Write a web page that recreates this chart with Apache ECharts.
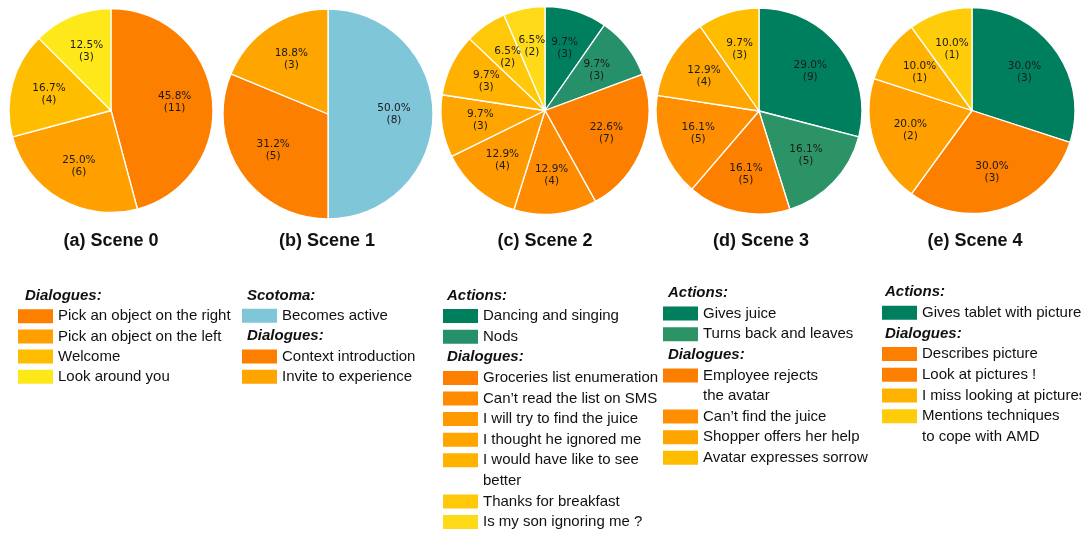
<!DOCTYPE html>
<html>
<head>
<meta charset="utf-8">
<script src="https://cdn.jsdelivr.net/npm/echarts@6/dist/echarts.min.js"></script>
<style>
  html, body { margin: 0; padding: 0; background: #fff; }
  #chart { width: 1081px; height: 535px; }
</style>
</head>
<body>
<div id="chart"></div>
<script>
// scene data, clockwise from 12 o'clock
const titles = ['(a) Scene 0', '(b) Scene 1', '(c) Scene 2', '(d) Scene 3', '(e) Scene 4']

const names0 = ['Pick an object on the right', 'Pick an object on the left', 'Welcome', 'Look around you']
const values0 = [11, 6, 4, 3]

const names1 = ['Becomes active', 'Context introduction', 'Invite to experience']
const values1 = [8, 5, 3]

const names2 = ['Dancing and singing', 'Nods', 'Groceries list enumeration', 'Can’t read the list on SMS',
  'I will try to find the juice', 'I thought he ignored me', 'I would have like to see better',
  'Thanks for breakfast', 'Is my son ignoring me ?']
const values2 = [3, 3, 7, 4, 4, 3, 3, 2, 2]

const names3 = ['Gives juice', 'Turns back and leaves', 'Employee rejects the avatar', 'Can’t find the juice',
  'Shopper offers her help', 'Avatar expresses sorrow']
const values3 = [9, 5, 5, 5, 4, 3]

const names4 = ['Gives tablet with picture', 'Describes picture', 'Look at pictures !',
  'I miss looking at pictures', 'Mentions techniques to cope with AMD']
const values4 = [3, 3, 2, 1, 1]

// legend headers: [label, number of entries under it]
const groups0 = [['Dialogues:', 4]]
const groups1 = [['Scotoma:', 1], ['Dialogues:', 2]]
const groups2 = [['Actions:', 2], ['Dialogues:', 7]]
const groups3 = [['Actions:', 2], ['Dialogues:', 4]]
const groups4 = [['Actions:', 1], ['Dialogues:', 4]]

// legend entries shown on two lines
const wraps = {
  'I would have like to see better': ['I would have like to see', 'better'],
  'Employee rejects the avatar': ['Employee rejects', 'the avatar'],
  'Mentions techniques to cope with AMD': ['Mentions techniques', 'to cope with AMD']
}

// colours
const colors0 = ['#fc7f00', '#ffa000', '#ffbd00', '#ffe81a']
const colors1 = ['#80c6d9', '#fc7f00', '#ffa500']
const colors2 = ['#007f5f', '#26906a', '#fc7f00', '#ff8c00', '#ff9900', '#ffa500', '#ffb200', '#ffc808', '#ffda18']
const colors3 = ['#007f5f', '#2c9366', '#fc7f00', '#ff8f00', '#ffa500', '#ffbd00']
const colors4 = ['#007f5f', '#fc7f00', '#ffa000', '#ffb300', '#ffcc0a']
const legendColors4 = ['#007f5f', '#fc7f00', '#fc7f00', '#ffb300', '#ffcc0a']

const scenes = [
  { names: names0, values: values0, colors: colors0, lcolors: colors0, groups: groups0 },
  { names: names1, values: values1, colors: colors1, lcolors: colors1, groups: groups1 },
  { names: names2, values: values2, colors: colors2, lcolors: colors2, groups: groups2 },
  { names: names3, values: values3, colors: colors3, lcolors: colors3, groups: groups3 },
  { names: names4, values: values4, colors: colors4, lcolors: legendColors4, groups: groups4 }
]

// layout
const pies = [
  { cx: 111, cy: 110.5, r: 102 },
  { cx: 328, cy: 114, r: 105 },
  { cx: 545, cy: 110.5, r: 104 },
  { cx: 759, cy: 111, r: 103 },
  { cx: 972, cy: 110.5, r: 103 }
]
const titleX = [111, 327, 545, 761, 975]
const titleY = 241
// header x, swatch x, first row y, row step
const blocks = [
  { hx: 25, sx: 18, y0: 296, step: 20.2 },
  { hx: 247, sx: 242, y0: 295.5, step: 20.3 },
  { hx: 447, sx: 443, y0: 295.5, step: 20.6 },
  { hx: 668, sx: 663, y0: 293, step: 20.6 },
  { hx: 885, sx: 882, y0: 292, step: 20.7 }
]

const FONT = '"Liberation Sans", Arial, sans-serif'

// matplotlib-like %.1f (round half to even)
function fmtPct (v, total) {
  const x = v / total * 1000
  const f = Math.floor(x)
  let n
  if (Math.abs(x - f - 0.5) < 1e-9) n = (f % 2 === 0) ? f : f + 1
  else n = Math.round(x)
  return (n / 10).toFixed(1)
}

let series = []
let legends = []
let texts = []

scenes.forEach((s, k) => {
  const p = pies[k]
  const total = s.values.reduce((a, b) => a + b, 0)
  series.push({
    type: 'pie',
    center: [p.cx, p.cy],
    radius: p.r,
    startAngle: 90,
    clockwise: true,
    silent: true,
    data: s.names.map((n, i) => ({ name: n, value: s.values[i], itemStyle: { color: s.colors[i] } })),
    itemStyle: { borderColor: '#fff', borderWidth: 1.3 },
    label: { show: false },
    labelLine: { show: false },
    emphasis: { disabled: true }
  })
  // transparent ring only to put labels at 0.6 r
  series.push({
    type: 'pie',
    center: [p.cx, p.cy],
    radius: [p.r * 0.2, p.r],
    startAngle: 90,
    clockwise: true,
    silent: true,
    avoidLabelOverlap: false,
    labelLayout: { hideOverlap: false },
    data: s.names.map((n, i) => ({ name: n, value: s.values[i] })),
    itemStyle: { color: 'rgba(0,0,0,0)', borderWidth: 0 },
    label: {
      show: true,
      position: 'inside',
      fontFamily: '"DejaVu Sans", sans-serif',
      fontSize: 10.5,
      lineHeight: 12,
      color: '#1a1a1a',
      formatter: prm => fmtPct(prm.value, total) + '%\n(' + prm.value + ')'
    },
    labelLine: { show: false },
    emphasis: { disabled: true }
  })

  texts.push({
    type: 'text', x: titleX[k], y: titleY,
    style: { text: titles[k], font: 'bold 18px ' + FONT, fill: '#111', align: 'center', verticalAlign: 'middle' }
  })

  // legend block
  const b = blocks[k]
  let row = 0
  let idx = 0
  s.groups.forEach(g => {
    texts.push({
      type: 'text', x: b.hx, y: b.y0 + row * b.step,
      style: { text: g[0], font: 'italic bold 15px ' + FONT, fill: '#111', align: 'left', verticalAlign: 'middle' }
    })
    row++
    for (let j = 0; j < g[1]; j++) {
      const name = s.names[idx]
      const y = b.y0 + row * b.step
      legends.push({
        left: b.sx,
        top: y - 7.5,
        padding: 0,
        itemWidth: 35,
        itemHeight: 14,
        selectedMode: false,
        data: [{ name: name, icon: 'rect', itemStyle: { color: s.lcolors[idx], borderWidth: 0 } }],
        formatter: n => wraps[n] ? wraps[n][0] : n,
        textStyle: { fontFamily: FONT, fontSize: 15, lineHeight: 15, color: '#111' }
      })
      row++
      if (wraps[name]) {
        texts.push({
          type: 'text', x: b.sx + 40, y: b.y0 + row * b.step,
          style: { text: wraps[name][1], font: '15px ' + FONT, fill: '#111', align: 'left', verticalAlign: 'middle' }
        })
        row++
      }
      idx++
    }
  })
})

let chart = echarts.init(document.getElementById('chart'))
chart.setOption({
  backgroundColor: '#fff',
  animation: false,
  legend: legends,
  graphic: { elements: texts },
  series: series
})
</script>
</body>
</html>
